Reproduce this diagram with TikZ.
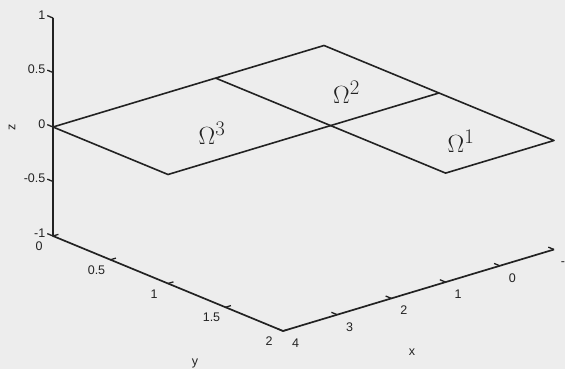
\documentclass[tikz,border=0pt]{standalone}
\usepackage{fontspec}
\setsansfont{Liberation Sans}
\usepackage{tikz}
\usetikzlibrary{positioning,calc}

\begin{document}
\begin{tikzpicture}[font=\sffamily\fontsize{12.5}{14}\selectfont,
  axis/.style={line width=1.7pt,draw=ink,line join=round},
  tickmark/.style={line width=1.3pt,draw=ink},
  edge/.style={line width=1.6pt,draw=ink,line join=round},
  lbl/.style={text=ink,inner sep=0pt},
  zlbl/.style={lbl,anchor=east},
  ylbl/.style={lbl,xshift=-14pt,yshift=-10.5pt},
  xlbl/.style={lbl,xshift=12.5pt,yshift=-12pt},
  dom/.style={font=\fontsize{31}{34}\selectfont,text=ink,inner sep=0pt}]
\definecolor{ink}{HTML}{222222}
\definecolor{paper}{HTML}{EDEDED}
\fill[paper] (0,0) rectangle (565pt,369pt);
\clip (0,0) rectangle (565pt,369pt);
\begin{scope}[shift={(269.8pt,307.2pt)},x={(-54.2pt,-16.3pt)},y={(115pt,-47.5pt)},z={(0pt,109pt)}]
% axis frame
\coordinate (zhi) at (4,0,1);
\coordinate (zlo) at (4,0,-1);
\coordinate (ylo) at (4,2,-1);
\coordinate (xend) at (-1,2,-1);
\draw[axis] (zhi)--(zlo)--(ylo)--(xend);
% z ticks
\draw[tickmark] (4,0,1)--(4,-.05,1);
\draw[tickmark] (4,0,.5)--(4,-.05,.5);
\draw[tickmark] (4,0,0)--(4,-.05,0);
\draw[tickmark] (4,0,-.5)--(4,-.05,-.5);
\draw[tickmark] (4,0,-1)--(4,-.05,-1);
\node[zlbl] (z1) at (4,-.065,1) {1};
\node[zlbl] (z2) at (4,-.065,.5) {0.5};
\node[zlbl] (z3) at (4,-.065,0) {0};
\node[zlbl] (z4) at (4,-.065,-.5) {-0.5};
\node[zlbl] (z5) at (4,-.065,-1) {-1};
% y ticks
\draw[tickmark] (4,0,-1)--(3.9,0,-1);
\draw[tickmark] (4,.5,-1)--(3.9,.5,-1);
\draw[tickmark] (4,1,-1)--(3.9,1,-1);
\draw[tickmark] (4,1.5,-1)--(3.9,1.5,-1);
\draw[tickmark] (4,2,-1)--(3.9,2,-1);
\node[ylbl] (y1) at (4,0,-1) {0};
\node[ylbl] (y2) at (4,.5,-1) {0.5};
\node[ylbl] (y3) at (4,1,-1) {1};
\node[ylbl] (y4) at (4,1.5,-1) {1.5};
\node[ylbl] (y5) at (4,2,-1) {2};
% x ticks
\draw[tickmark] (4,2,-1)--(4,1.95,-1);
\draw[tickmark] (3,2,-1)--(3,1.95,-1);
\draw[tickmark] (2,2,-1)--(2,1.95,-1);
\draw[tickmark] (1,2,-1)--(1,1.95,-1);
\draw[tickmark] (0,2,-1)--(0,1.95,-1);
\draw[tickmark] (-1,2,-1)--(-1,1.95,-1);
\node[xlbl] (x1) at (4,2,-1) {4};
\node[xlbl] (x2) at (3,2,-1) {3};
\node[xlbl] (x3) at (2,2,-1) {2};
\node[xlbl] (x4) at (1,2,-1) {1};
\node[xlbl] (x5) at (0,2,-1) {0};
\node[xlbl] (x6) at (-1,2,-1) {-1};
% subdomains in the plane z=0
\coordinate (a) at (4,0,0);
\coordinate (b) at (1,0,0);
\coordinate (c) at (-1,0,0);
\coordinate (d) at (-1,1,0);
\coordinate (e) at (-1,2,0);
\coordinate (f) at (1,2,0);
\coordinate (g) at (1,1,0);
\coordinate (h) at (4,1,0);
\draw[edge] (a)--(c)--(e)--(f)--(b);
\draw[edge] (a)--(h)--(g)--(d);
\end{scope}
\node[lbl,rotate=90] (zname) at (12pt,242pt) {z};
\node[lbl] (yname) at (195pt,6pt) {y};
\node[lbl] (xname) at (412pt,17pt) {x};
\node[dom] (om3) at (212pt,235.5pt) {$\Omega^3$};
\node[dom] (om2) at (346.5pt,276.5pt) {$\Omega^2$};
\node[dom] (om1) at (461pt,228pt) {$\Omega^1$};
\end{tikzpicture}
\end{document}
